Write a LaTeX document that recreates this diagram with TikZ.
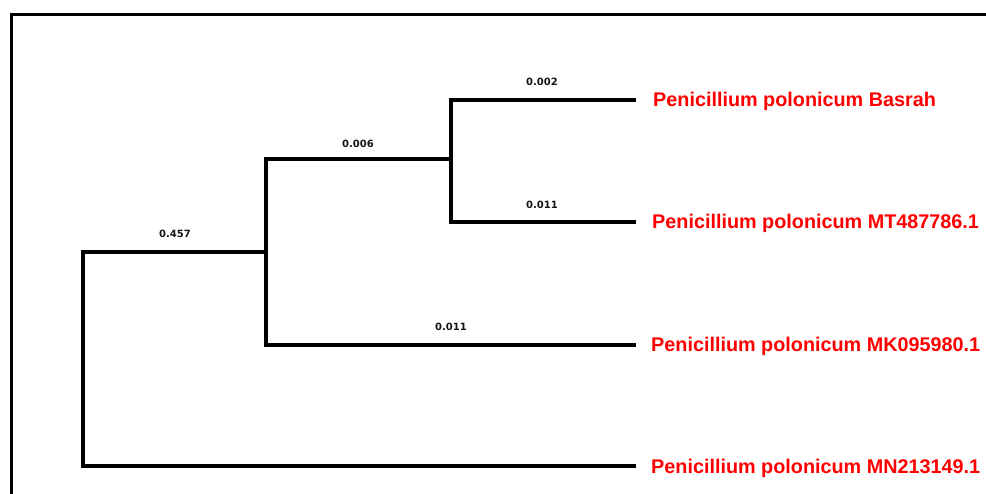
\documentclass[tikz,border=0pt]{standalone}
\usepackage{fontspec}
\setmainfont{Liberation Sans}
\newfontfamily\lblfont{DejaVu Sans}
\definecolor{leafred}{RGB}{255,0,0}
\definecolor{lenblack}{RGB}{20,20,20}
\begin{document}
\begin{tikzpicture}[x=1pt,y=-1pt,
  branch/.style={line width=4pt,line cap=butt,line join=miter,black},
  frameline/.style={line width=3.5pt,line cap=butt,line join=miter,black},
  leaflbl/.style={anchor=base west,inner sep=0pt,text=leafred,font=\fontsize{19.8}{24}\selectfont\bfseries},
  lenlbl/.style={anchor=base,inner sep=0pt,text=lenblack,font=\lblfont\fontsize{10}{12}\selectfont\bfseries}]
\useasboundingbox (0,0) rectangle (986,494);
% frame
\coordinate (ftr) at (986,14.5);
\coordinate (ftl) at (11.5,14.5);
\coordinate (fbl) at (11.5,494);
\draw[frameline] (ftr) -- (ftl) -- (fbl);
% internal nodes
\coordinate (rt) at (83,252);
\coordinate (rb) at (83,466);
\coordinate (at) at (266,159);
\coordinate (am) at (266,252);
\coordinate (ab) at (266,345);
\coordinate (bt) at (451,100);
\coordinate (bm) at (451,159);
\coordinate (bb) at (451,222);
% leaf ends
\coordinate (e1) at (636,100);
\coordinate (e2) at (636,222);
\coordinate (e3) at (636,345);
\coordinate (e4) at (636,466);
% branches
\draw[branch] (am) -- (rt) -- (rb) -- (e4);
\draw[branch] (bm) -- (at) -- (ab) -- (e3);
\draw[branch] (e1) -- (bt) -- (bb) -- (e2);
% leaf labels
\node[leaflbl] (l1) at (653,107) {Penicillium polonicum Basrah};
\node[leaflbl] (l2) at (652,229) {Penicillium polonicum MT487786.1};
\node[leaflbl] (l3) at (651,352) {Penicillium polonicum MK095980.1};
\node[leaflbl] (l4) at (651,473) {Penicillium polonicum MN213149.1};
% branch lengths
\node[lenlbl] (b1) at (542,86) {0.002};
\node[lenlbl] (b2) at (358,148) {0.006};
\node[lenlbl] (b3) at (542,209) {0.011};
\node[lenlbl] (b4) at (175,238) {0.457};
\node[lenlbl] (b5) at (451,331) {0.011};
\end{tikzpicture}
\end{document}
